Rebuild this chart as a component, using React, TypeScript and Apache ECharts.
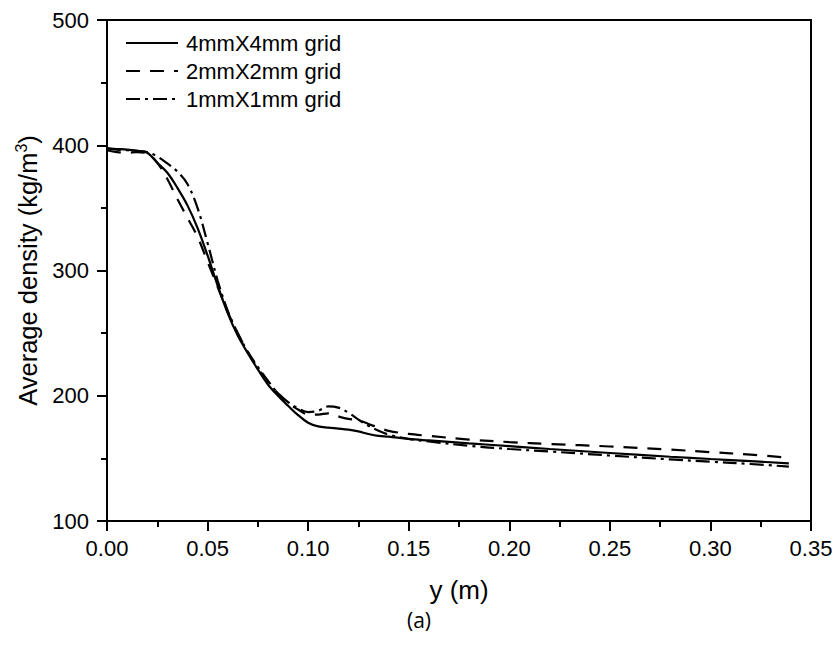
import React, { useEffect, useRef } from "react";
import * as echarts from "echarts";

const xs = [0, 0.005, 0.01, 0.015, 0.02, 0.025, 0.03, 0.035, 0.04, 0.045, 0.05, 0.055, 0.06, 0.065, 0.07, 0.075, 0.08, 0.085, 0.09, 0.095, 0.1, 0.105, 0.11, 0.115, 0.12, 0.125, 0.13, 0.135, 0.14, 0.15, 0.16, 0.18, 0.2, 0.22, 0.25, 0.28, 0.3, 0.32, 0.339];

const grid4mm = [397.5, 397, 396.5, 395.5, 394, 386, 378, 366, 352, 334, 312, 288, 266, 248, 234, 221, 209, 200, 192, 184.5, 178.5, 175.5, 174.5, 173.8, 173, 171.5, 169.5, 168, 167.3, 165.5, 164.3, 162, 159.8, 157.5, 154.3, 151.3, 149.5, 147.8, 146];
const grid2mm = [396, 394.5, 394, 394.5, 393.5, 386, 373, 357, 342, 327, 307, 287, 267, 250, 235, 222, 211, 202, 194, 189, 185, 185, 186, 183.5, 181.5, 180.5, 177.5, 174.5, 172, 169.5, 168, 165, 163, 161.5, 159.5, 157, 155, 153, 150.5];
const grid1mm = [397.5, 396.5, 396, 395.5, 394.5, 391, 385.5, 379, 369, 350, 322, 292, 268, 250, 235, 223, 212, 202, 195, 190, 187, 188, 191.5, 190.5, 186.5, 181, 176, 172, 169, 165.5, 163.5, 160, 157.5, 155.5, 152.3, 149.2, 147.3, 145.5, 143.4];

const seriesNames = ["4mmX4mm grid", "2mmX2mm grid", "1mmX1mm grid"];
const xTicks = ["0.00", "0.05", "0.10", "0.15", "0.20", "0.25", "0.30", "0.35"];

export default function App() {
  const ref = useRef<HTMLDivElement>(null);
  useEffect(() => {
    if (!ref.current) return;
    const chart = echarts.init(ref.current, undefined, { renderer: "svg" });
    const pair = (ys: number[]) => xs.map((x, i) => [x, ys[i]]);
    const font = "Liberation Sans, Arial, sans-serif";
    const mk = (name: string, ys: number[], type: any) => ({
      name,
      type: "line",
      data: pair(ys),
      smooth: 0.35,
      symbol: "none",
      lineStyle: { color: "#000", width: 2.2, type },
      itemStyle: { color: "#000", opacity: 0 },
    });
    chart.setOption({
      animation: false,
      backgroundColor: "#fff",
      grid: { left: 107, right: 26, top: 20, bottom: 125, show: true, borderColor: "#000", borderWidth: 2 },
      legend: {
        orient: "vertical",
        left: 120,
        top: 27,
        itemWidth: 52,
        itemHeight: 14,
        itemGap: 6,
        data: seriesNames,
        itemStyle: { opacity: 0 },
        textStyle: { fontFamily: font, fontSize: 22, color: "#000", padding: [0, 0, 0, 3] },
      },
      xAxis: {
        type: "value",
        min: 0,
        max: 0.35,
        interval: 0.05,
        name: "y (m)",
        nameLocation: "middle",
        nameGap: 56,
        nameTextStyle: { fontFamily: font, fontSize: 26, color: "#000" },
        axisLine: { lineStyle: { color: "#000", width: 2 } },
        axisTick: { show: true, length: 10, lineStyle: { color: "#000", width: 2 } },
        minorTick: { show: true, splitNumber: 2, length: 6, lineStyle: { color: "#000", width: 2 } },
        splitLine: { show: false },
        axisLabel: {
          fontFamily: font,
          fontSize: 22,
          color: "#000",
          margin: 16,
          formatter: (v: number) => xTicks[Math.round(v / 0.05)] ?? v.toFixed(2),
        },
      },
      yAxis: {
        type: "value",
        min: 100,
        max: 500,
        interval: 100,
        name: "Average density (kg/m{sup|3})",
        nameLocation: "middle",
        nameGap: 58,
        nameRotate: 90,
        nameTextStyle: {
          fontFamily: font,
          fontSize: 25.5,
          color: "#000",
          rich: { sup: { fontFamily: font, fontSize: 16, color: "#000", padding: [0, 0, 14, 0] } },
        },
        axisLine: { lineStyle: { color: "#000", width: 2 } },
        axisTick: { show: true, length: 10, lineStyle: { color: "#000", width: 2 } },
        minorTick: { show: true, splitNumber: 2, length: 6, lineStyle: { color: "#000", width: 2 } },
        splitLine: { show: false },
        axisLabel: { fontFamily: font, fontSize: 22, color: "#000", margin: 18 },
      },
      series: [
        mk(seriesNames[0], grid4mm, "solid"),
        mk(seriesNames[1], grid2mm, [14, 10]),
        mk(seriesNames[2], grid1mm, [14, 5, 3, 5]),
      ],
      graphic: [
        {
          type: "text",
          left: 407,
          top: 609,
          style: { text: "(a)", fontFamily: "Open Sans, Lato, sans-serif", fontSize: 21, fill: "#000" },
        },
      ],
    });
    return () => chart.dispose();
  }, []);
  return <div ref={ref} style={{ position: "fixed", left: 0, top: 0, width: 837, height: 646 }} />;
}
